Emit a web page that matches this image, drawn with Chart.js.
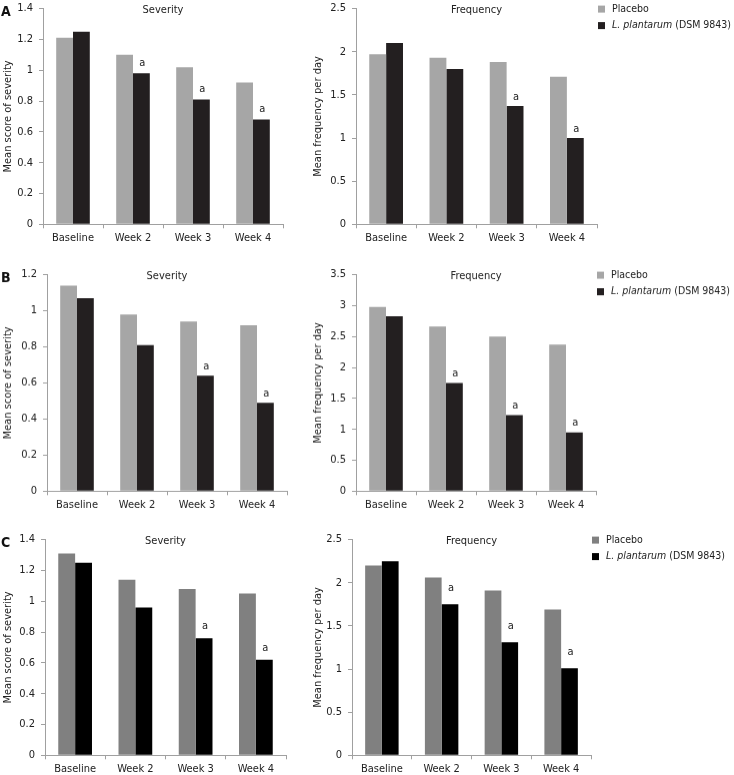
<!DOCTYPE html>
<html><head><meta charset="utf-8">
<script src="https://cdn.jsdelivr.net/npm/chart.js@4.4.1/dist/chart.umd.min.js"></script>
<style>
html,body{margin:0;padding:0;background:#fff;}
body{width:734px;height:775px;overflow:hidden;position:relative;}
.pan{position:absolute;}
</style></head><body>
<div class="pan" id="w0"><canvas id="c0"></canvas></div>
<div class="pan" id="w1"><canvas id="c1"></canvas></div>
<div class="pan" id="w2"><canvas id="c2"></canvas></div>
<div class="pan" id="w3"><canvas id="c3"></canvas></div>
<div class="pan" id="w4"><canvas id="c4"></canvas></div>
<div class="pan" id="w5"><canvas id="c5"></canvas></div>
<script>
// ---------- data ----------
const categories = ['Baseline', 'Week 2', 'Week 3', 'Week 4'];
const placeboName = 'Placebo';
const lpNameItalic = 'L. plantarum';
const lpNameRest = ' (DSM 9843)';
const panelLetters = ['A', 'B', 'C'];
const panelTitles = ['Severity', 'Frequency'];
const severityAxisTitle = 'Mean score of severity';
const frequencyAxisTitle = 'Mean frequency per day';

const severityA_placebo = [1.21, 1.10, 1.02, 0.92];
const severityA_lp      = [1.25, 0.98, 0.81, 0.68];
const frequencyA_placebo = [1.97, 1.93, 1.88, 1.71];
const frequencyA_lp      = [2.10, 1.80, 1.37, 1.00];

const severityB_placebo = [1.14, 0.98, 0.94, 0.92];
const severityB_lp      = [1.07, 0.81, 0.64, 0.49];
const frequencyB_placebo = [2.98, 2.66, 2.50, 2.37];
const frequencyB_lp      = [2.83, 1.75, 1.23, 0.95];

const severityC_placebo = [1.31, 1.14, 1.08, 1.05];
const severityC_lp      = [1.25, 0.96, 0.76, 0.62];
const frequencyC_placebo = [2.20, 2.06, 1.91, 1.69];
const frequencyC_lp      = [2.25, 1.75, 1.31, 1.01];

const sigA_severity  = ['', 'a', 'a', 'a'];
const sigA_frequency = ['', '', 'a', 'a'];
const sigB_severity  = ['', '', 'a', 'a'];
const sigB_frequency = ['', 'a', 'a', 'a'];
const sigC_severity  = ['', '', 'a', 'a'];
const sigC_frequency = ['', 'a', 'a', 'a'];

const ticksSeverity14 = [0, 0.2, 0.4, 0.6, 0.8, 1, 1.2, 1.4];
const ticksSeverity12 = [0, 0.2, 0.4, 0.6, 0.8, 1, 1.2];
const ticksFrequency25 = [0, 0.5, 1, 1.5, 2, 2.5];
const ticksFrequency35 = [0, 0.5, 1, 1.5, 2, 2.5, 3, 3.5];

// ---------- styling / layout ----------
const FONT = '"DejaVu Sans Condensed", "DejaVu Sans", Verdana, sans-serif';
const FS = 11;
const LFS = 10.5;
const TXT = '#222';
const AXIS = '#a0a0a0';
const colorsAB = ['#a6a6a6', '#231f20'];
const colorsC = ['#808080', '#000000'];

const panels = [
  {cv:'c0', wr:'w0', cl:0,   cw:300, top:6,     plotL:43,  plotR:283, sigOff:10.5, letter:panelLetters[0], title:panelTitles[0], axisTitle:severityAxisTitle,  ticks:ticksSeverity14,  p:severityA_placebo,  l:severityA_lp,  sig:sigA_severity,  col:colorsAB, legend:false},
  {cv:'c1', wr:'w1', cl:310, cw:424, top:6,     plotL:356, plotR:597, sigOff:8.5,  letter:null,            title:panelTitles[1], axisTitle:frequencyAxisTitle, ticks:ticksFrequency25, p:frequencyA_placebo, l:frequencyA_lp, sig:sigA_frequency, col:colorsAB, legend:true},
  {cv:'c2', wr:'w2', cl:0,   cw:300, top:272.3, plotL:47,  plotR:287, sigOff:9.5,  letter:panelLetters[1], title:panelTitles[0], axisTitle:severityAxisTitle,  ticks:ticksSeverity12,  p:severityB_placebo,  l:severityB_lp,  sig:sigB_severity,  col:colorsAB, legend:false},
  {cv:'c3', wr:'w3', cl:310, cw:424, top:272.3, plotL:356, plotR:596, sigOff:9.5,  letter:null,            title:panelTitles[1], axisTitle:frequencyAxisTitle, ticks:ticksFrequency35, p:frequencyB_placebo, l:frequencyB_lp, sig:sigB_frequency, col:colorsAB, legend:true},
  {cv:'c4', wr:'w4', cl:0,   cw:300, top:536.7, plotL:45,  plotR:286, sigOff:12,   letter:panelLetters[2], title:panelTitles[0], axisTitle:severityAxisTitle,  ticks:ticksSeverity14,  p:severityC_placebo,  l:severityC_lp,  sig:sigC_severity,  col:colorsC,  legend:false},
  {cv:'c5', wr:'w5', cl:310, cw:424, top:536.7, plotL:352, plotR:591, sigOff:16,   letter:null,            title:panelTitles[1], axisTitle:frequencyAxisTitle, ticks:ticksFrequency25, p:frequencyC_placebo, l:frequencyC_lp, sig:sigC_frequency, col:colorsC,  legend:true}
];
const PLOT_H = 218.3;
const PAD_TOP = 10;
const XAXIS_H = 30;
const PAD_BOTTOM = 6;

const overlay = {
  id: 'overlay',
  afterDraw(chart, args, o) {
    const ctx = chart.ctx, ca = chart.chartArea;
    ctx.save();
    ctx.fillStyle = TXT;
    ctx.font = FS + 'px ' + FONT;
    ctx.textAlign = 'center';
    ctx.textBaseline = 'middle';
    ctx.fillText(o.title, (ca.left + ca.right) / 2, ca.top + 2);
    const meta = chart.getDatasetMeta(1);
    meta.data.forEach((bar, i) => {
      const s = o.sig[i];
      if (s) ctx.fillText(s, bar.x + 1, bar.y - o.sigOff);
    });
    if (o.letter) {
      ctx.font = 'bold 14px ' + FONT;
      ctx.textAlign = 'left';
      ctx.fillStyle = '#111';
      ctx.fillText(o.letter, 1, ca.top + 4);
    }
    if (o.legend) {
      const ds = chart.data.datasets;
      const x0 = ca.right + 1;
      const rows = [ca.top + 0.5, ca.top + 17];
      ctx.textAlign = 'left';
      ds.forEach((d, i) => {
        const y = rows[i];
        ctx.fillStyle = d.backgroundColor;
        ctx.fillRect(x0, y - 3.5, 7, 7);
        ctx.fillStyle = TXT;
        let tx = x0 + 14;
        if (i === 0) {
          ctx.font = LFS + 'px ' + FONT;
          ctx.fillText(d.label, tx, y);
        } else {
          ctx.font = 'italic ' + LFS + 'px ' + FONT;
          ctx.fillText(lpNameItalic, tx, y);
          tx += ctx.measureText(lpNameItalic).width;
          ctx.font = LFS + 'px ' + FONT;
          ctx.fillText(lpNameRest, tx, y);
        }
      });
    }
    ctx.restore();
  }
};

panels.forEach(pn => {
  const wrap = document.getElementById(pn.wr);
  const h = PAD_TOP + PLOT_H + XAXIS_H + PAD_BOTTOM;
  wrap.style.left = pn.cl + 'px';
  wrap.style.top = (pn.top - PAD_TOP) + 'px';
  wrap.style.width = pn.cw + 'px';
  wrap.style.height = h + 'px';
  const tk = pn.ticks;
  new Chart(document.getElementById(pn.cv), {
    type: 'bar',
    data: {
      labels: categories,
      datasets: [
        {label: placeboName, data: pn.p, backgroundColor: pn.col[0], borderWidth: 0},
        {label: lpNameItalic + lpNameRest, data: pn.l, backgroundColor: pn.col[1], borderWidth: 0}
      ]
    },
    options: {
      responsive: true,
      maintainAspectRatio: false,
      animation: false,
      events: [],
      layout: {padding: {left: 0, top: PAD_TOP, right: pn.cw - (pn.plotR - pn.cl), bottom: PAD_BOTTOM}},
      datasets: {bar: {categoryPercentage: 0.56, barPercentage: 1.0}},
      plugins: {
        legend: {display: false},
        tooltip: {enabled: false},
        overlay: {title: pn.title, sig: pn.sig, sigOff: pn.sigOff, letter: pn.letter, legend: pn.legend}
      },
      scales: {
        x: {
          offset: true,
          grid: {display: true, drawOnChartArea: false, drawTicks: true, tickLength: 4, color: AXIS, offset: true},
          border: {display: true, color: AXIS, width: 1},
          ticks: {font: {family: FONT, size: FS}, color: TXT, padding: 3, maxRotation: 0, autoSkip: false},
          afterFit: s => { s.height = XAXIS_H; }
        },
        y: {
          min: tk[0], max: tk[tk.length - 1],
          afterBuildTicks: s => { s.ticks = tk.map(v => ({value: v})); },
          grid: {display: true, drawOnChartArea: false, drawTicks: true, tickLength: 4, color: AXIS},
          border: {display: true, color: AXIS, width: 1},
          ticks: {font: {family: FONT, size: FS}, color: TXT, padding: 6, callback: v => String(v)},
          title: {display: true, text: pn.axisTitle, font: {family: FONT, size: FS}, color: TXT, padding: {top: 2, bottom: 0}},
          afterFit: s => { s.width = pn.plotL - pn.cl; }
        }
      }
    },
    plugins: [overlay]
  });
});
</script>
</body></html>
